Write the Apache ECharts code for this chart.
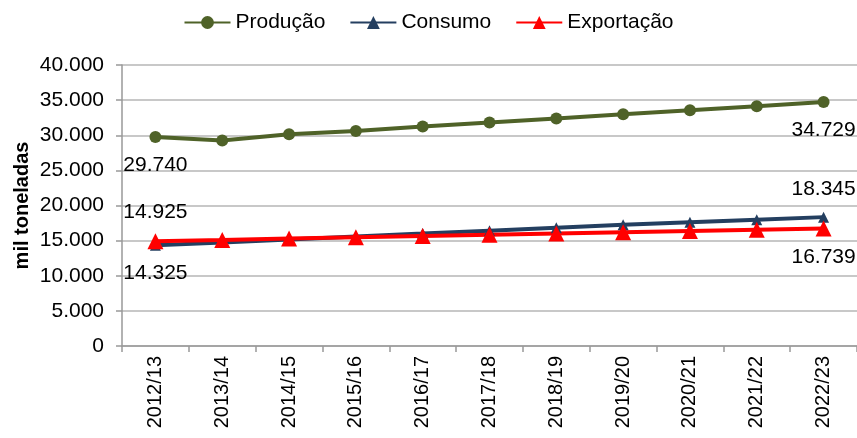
<!DOCTYPE html>
<html>
<head>
<meta charset="utf-8">
<script src="https://cdn.jsdelivr.net/npm/echarts@6/dist/echarts.min.js"></script>
<style>
html,body{margin:0;padding:0;background:#fff;}
#chart{width:857px;height:438px;}
</style>
</head>
<body>
<div id="chart"></div>
<script>
var categories = ['2012/13','2013/14','2014/15','2015/16','2016/17','2017/18','2018/19','2019/20','2020/21','2021/22','2022/23'];
var producao = [29740, 29250, 30150, 30620, 31230, 31800, 32400, 32980, 33550, 34140, 34729];
var consumo = [14325, 14750, 15170, 15590, 16000, 16420, 16840, 17250, 17620, 17980, 18345];
var exportacao = [14925, 15100, 15290, 15470, 15650, 15830, 16010, 16190, 16370, 16555, 16739];
var yTicks = [0, 5000, 10000, 15000, 20000, 25000, 30000, 35000, 40000];

function fmt(v){ return String(v).replace(/\B(?=(\d{3})+(?!\d))/g, '.'); }

var FONT = '"Liberation Sans", Arial, sans-serif';

function withLabels(arr, firstPos, lastPos, dist){
  return arr.map(function(v, i){
    if (i === 0 || i === arr.length - 1) {
      return {value: v, label: {show: true, position: i === 0 ? firstPos : lastPos, distance: dist,
        formatter: function(p){ return fmt(p.value); }, color: '#000', fontSize: 21, fontFamily: FONT}};
    }
    return v;
  });
}

var chart = echarts.init(document.getElementById('chart'), null, {renderer: 'canvas'});
chart.setOption({
  animation: false,
  backgroundColor: '#fff',
  legend: {
    top: 7,
    left: 'center',
    itemWidth: 46,
    itemHeight: 16,
    itemGap: 24,
    textStyle: {fontSize: 21, color: '#000', fontFamily: FONT},
    data: ['Produção', 'Consumo', 'Exportação']
  },
  grid: {left: 122, right: 0, top: 65, bottom: 92, containLabel: false},
  xAxis: {
    type: 'category',
    data: categories,
    boundaryGap: true,
    axisLine: {lineStyle: {color: '#999', width: 1.5}},
    axisTick: {show: true, length: 6, interval: 0, lineStyle: {color: '#999', width: 1.5}},
    axisLabel: {rotate: 90, interval: 0, fontSize: 20, color: '#000', fontFamily: FONT, margin: 10},
    splitLine: {show: false}
  },
  yAxis: {
    type: 'value',
    min: yTicks[0],
    max: yTicks[yTicks.length - 1],
    interval: 5000,
    name: 'mil toneladas',
    nameLocation: 'middle',
    nameGap: 90,
    nameRotate: 90,
    nameMoveOverlap: false,
    nameTextStyle: {fontSize: 20, fontWeight: 'bold', color: '#000', fontFamily: FONT},
    axisLine: {show: true, lineStyle: {color: '#999', width: 1.5}},
    axisTick: {show: true, length: 6, lineStyle: {color: '#999', width: 1.5}},
    axisLabel: {fontSize: 21, color: '#000', fontFamily: FONT, margin: 18, formatter: function(v){ return fmt(v); }},
    splitLine: {show: true, lineStyle: {color: '#c8c8c8', width: 2}}
  },
  series: [
    {
      name: 'Produção', type: 'line', data: withLabels(producao, 'bottom', 'bottom', 12),
      symbol: 'circle', symbolSize: 12,
      lineStyle: {color: '#4f6228', width: 4},
      itemStyle: {color: '#4f6228'}
    },
    {
      name: 'Consumo', type: 'line', data: withLabels(consumo, 'bottom', 'top', 12),
      symbol: 'triangle', symbolSize: 11,
      lineStyle: {color: '#243f60', width: 4},
      itemStyle: {color: '#243f60'}
    },
    {
      name: 'Exportação', type: 'line', data: withLabels(exportacao, 'top', 'bottom', 10),
      symbol: 'triangle', symbolSize: 16,
      lineStyle: {color: '#ff0000', width: 4},
      itemStyle: {color: '#ff0000'}
    }
  ]
});
</script>
</body>
</html>
